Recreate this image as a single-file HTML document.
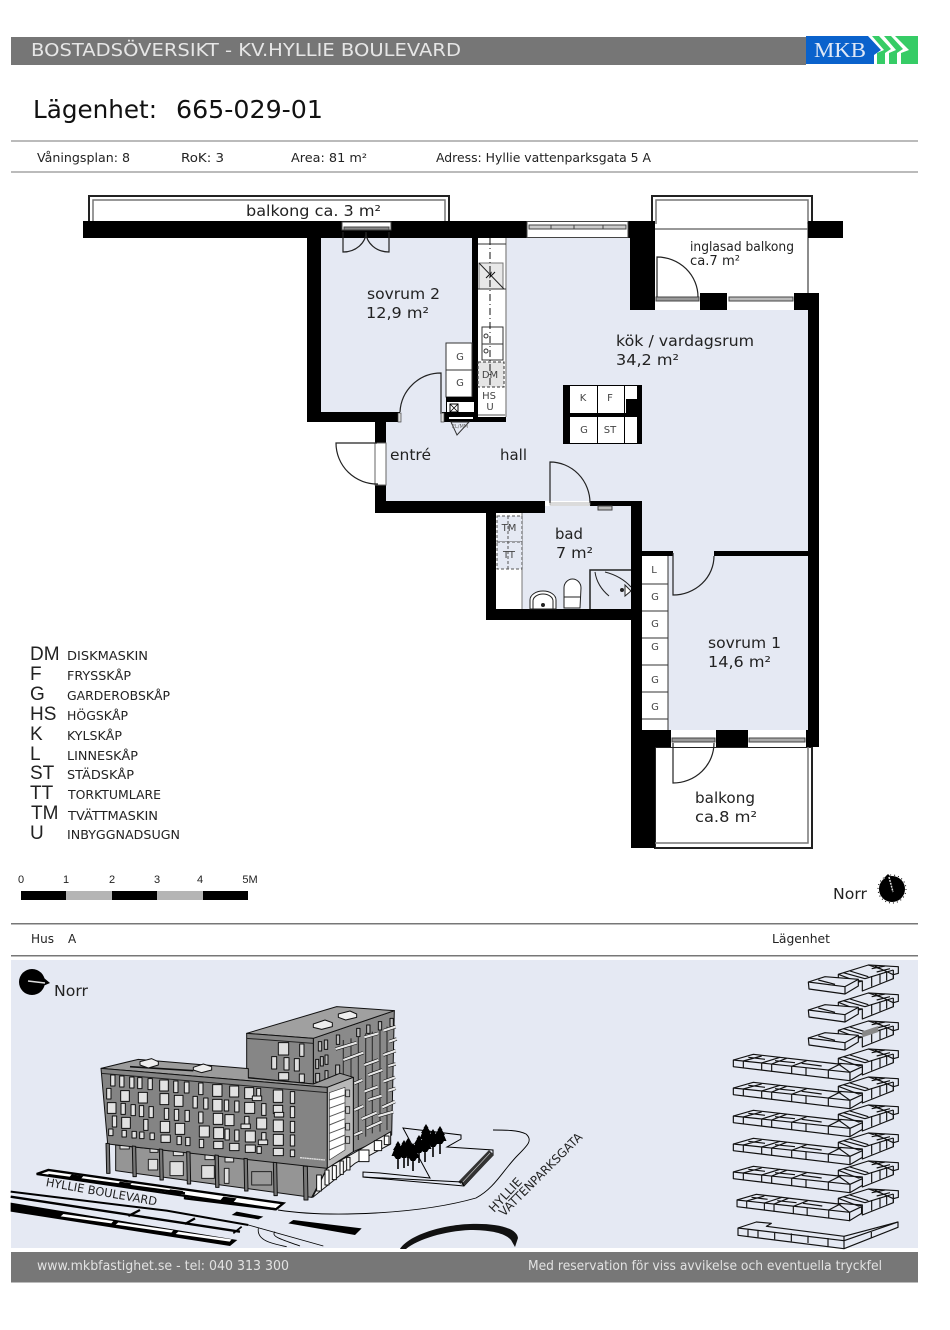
<!DOCTYPE html>
<html><head><meta charset="utf-8"><title>Bostadsöversikt</title>
<style>
html,body{margin:0;padding:0;background:#fff}
svg{display:block}
text{font-family:"DejaVu Sans",sans-serif;fill:#222}
.l{font-family:"Liberation Sans",sans-serif}
.s{font-size:10px;fill:#444;text-anchor:middle}
</style></head><body>
<svg xmlns="http://www.w3.org/2000/svg" width="950" height="1330" viewBox="0 0 950 1330">
<rect width="950" height="1330" fill="#fff"/>
<!-- header -->
<rect x="11" y="37" width="795" height="28" fill="#767676"/>
<polygon points="806,36 868,36 881,50 874,55 874,64 806,64" fill="#0a62cc"/>
<text x="814" y="57" style="font-family:'Liberation Serif',serif;font-size:21px;fill:#dfe8f6" textLength="52" lengthAdjust="spacingAndGlyphs">MKB</text>
<polygon points="872,36 879,36 891,49 885,53 885,64 877,64 877,53 884,50" fill="#36cc66"/>
<polygon points="884,36 891,36 903,49 897,53 897,64 889,64 889,53 896,50" fill="#36cc66"/>
<polygon points="895,36 918,36 918,64 901,64 901,53 909,50" fill="#36cc66"/>
<text x="31" y="56" font-size="18" style="fill:#e6e6e6" textLength="430" lengthAdjust="spacingAndGlyphs">BOSTADSÖVERSIKT - KV.HYLLIE BOULEVARD</text>
<text x="33" y="118" font-size="25" style="fill:#111" textLength="124" lengthAdjust="spacingAndGlyphs">Lägenhet:</text>
<text x="176" y="118" font-size="25" style="fill:#111" textLength="147" lengthAdjust="spacingAndGlyphs">665-029-01</text>
<rect x="11" y="140" width="907" height="2" fill="#bbb"/>
<rect x="11" y="171" width="907" height="2" fill="#bbb"/>
<text x="37" y="162" font-size="12" textLength="93" lengthAdjust="spacingAndGlyphs">Våningsplan: 8</text>
<text x="181" y="162" font-size="12" textLength="43" lengthAdjust="spacingAndGlyphs">RoK: 3</text>
<text x="291" y="162" font-size="12" textLength="76" lengthAdjust="spacingAndGlyphs">Area: 81 m²</text>
<text x="436" y="162" font-size="12" textLength="215" lengthAdjust="spacingAndGlyphs">Adress: Hyllie vattenparksgata 5 A</text>

<!-- floor plan: room fills -->
<g fill="#e5e9f3">
<polygon points="321,238 630,238 630,310 808,310 808,730 642,730 642,501 386,501 386,422 321,412"/>
<rect x="496" y="506" width="136" height="103"/>
</g>
<!-- balconies -->
<g fill="#fff" stroke="#222">
<rect x="89" y="196" width="360" height="27" stroke-width="2"/>
<polyline points="93,222 93,200 445,200 445,222" fill="none" stroke="#777" stroke-width="1.5"/>
<path d="M652,224V196H812V224" stroke-width="2"/>
<polyline points="656,226 656,200 808,200 808,226" fill="none" stroke="#777" stroke-width="1.5"/>
<rect x="654" y="224" width="154" height="69" stroke="none"/>
<line x1="654" y1="229" x2="808" y2="229" stroke="#777" stroke-width="1.5"/>
<line x1="808" y1="222" x2="808" y2="293" stroke="#666" stroke-width="1.5"/>
<rect x="655" y="747" width="157" height="101" stroke-width="2"/>
<polyline points="655,843 808,843 808,747" fill="none" stroke="#777" stroke-width="1.5"/>
</g>
<!-- walls -->
<g fill="#000">
<rect x="83" y="221" width="444" height="17"/>
<rect x="628" y="221" width="27" height="17"/>
<rect x="630" y="221" width="25" height="89"/>
<rect x="808" y="221" width="35" height="17"/>
<rect x="307" y="238" width="14" height="184"/>
<rect x="307" y="412" width="93" height="10"/>
<rect x="442" y="412" width="64" height="10"/>
<rect x="472" y="238" width="6" height="184"/>
<rect x="375" y="422" width="11" height="21"/>
<rect x="375" y="485" width="11" height="27"/>
<rect x="375" y="501" width="170" height="12"/>
<rect x="590" y="501" width="52" height="5"/>
<rect x="486" y="513" width="10" height="107"/>
<rect x="486" y="609" width="155" height="11"/>
<rect x="631" y="501" width="11" height="229"/>
<rect x="631" y="730" width="40" height="17"/>
<rect x="631" y="730" width="24" height="118"/>
<rect x="716" y="730" width="32" height="17"/>
<rect x="806" y="730" width="13" height="17"/>
<rect x="808" y="293" width="11" height="454"/>
<rect x="794" y="293" width="25" height="17"/>
<rect x="700" y="293" width="27" height="17"/>
<rect x="642" y="551" width="31" height="5"/>
<rect x="714" y="551" width="94" height="5"/>
</g>
<!-- windows -->
<g stroke="#444" stroke-width="1">
<rect x="527" y="221.500" width="101" height="16" fill="#fff"/>
<rect x="529" y="225" width="97" height="4" fill="#ccc"/>
<line x1="551" y1="225" x2="551" y2="229"/><line x1="574" y1="225" x2="574" y2="229"/><line x1="603" y1="225" x2="603" y2="229"/>
<rect x="342" y="222" width="49" height="8" fill="#fff"/>
<rect x="344" y="227" width="45" height="3" fill="#888"/>
<rect x="655" y="293" width="45" height="17" fill="#fff" stroke="none"/>
<rect x="727" y="293" width="67" height="17" fill="#fff" stroke="none"/>
<rect x="656" y="297" width="43" height="4" fill="#999"/>
<rect x="729" y="297" width="64" height="4" fill="#bbb"/>
<rect x="671" y="730" width="45" height="17" fill="#fff" stroke="none"/>
<rect x="748" y="730" width="58" height="17" fill="#fff" stroke="none"/>
<rect x="672" y="738" width="43" height="4" fill="#999"/>
<rect x="749" y="738" width="56" height="4" fill="#aaa"/>
<rect x="375" y="443" width="11" height="42" fill="#fff" stroke="#666"/>
<rect x="598" y="506" width="14" height="4" fill="#bbb"/>
</g>
<!-- doors -->
<g fill="none" stroke="#222" stroke-width="1.2">
<path d="M343,232V252A23,20 0 0 0 366,232"/>
<path d="M389,232V252A23,20 0 0 1 366,232"/>
<path d="M441,414V373A41,41 0 0 0 400,412"/>
<path d="M377,443H336A41,41 0 0 0 378,484"/>
<path d="M550,503V462A40,41 0 0 1 590,503"/>
<path d="M657,297V257A41,40 0 0 1 698,297"/>
<path d="M673,553V595A41,39 0 0 0 714,556"/>
<path d="M673,743V783A41,40 0 0 0 714,743"/>
</g>
<rect x="441" y="413" width="3" height="9" fill="#ddd" stroke="#444" stroke-width=".7"/>
<rect x="398" y="413" width="3" height="9" fill="#ddd" stroke="#444" stroke-width=".7"/>
<rect x="550" y="503" width="40" height="2" fill="#fff" stroke="#888" stroke-width=".6"/>
<!-- sovrum 2 closets -->
<g stroke="#333" stroke-width="1">
<rect x="446" y="343" width="26" height="27" fill="#fff"/>
<rect x="446" y="370" width="26" height="27" fill="#fff"/>
</g>
<rect x="446" y="397" width="27" height="15" fill="#000"/>
<rect x="447" y="402" width="27" height="10" fill="#fff"/>
<rect x="450" y="404" width="8" height="8" fill="#fff" stroke="#000"/>
<path d="M450,404l8,8m0,-8l-8,8" stroke="#000" stroke-width=".8"/>
<rect x="449" y="417" width="24" height="2" fill="#fff"/>
<rect x="445" y="412" width="1" height="10" fill="#000"/>
<polygon points="451,422 469,422 457,435" fill="#e5e9f3" stroke="#333"/>
<text x="460" y="428" font-size="5" text-anchor="middle" style="fill:#666">EL/MM</text>
<!-- kitchen counter -->
<rect x="478" y="238" width="28" height="179" fill="#fff" stroke="none"/>
<line x1="506" y1="238" x2="506" y2="417" stroke="#999" stroke-width="1.5"/>
<g fill="none" stroke="#333" stroke-width="1">
<line x1="478" y1="244" x2="506" y2="244"/>
<rect x="479" y="263" width="24" height="26" fill="#e8e8e8" stroke="#777"/>
<line x1="479" y1="263" x2="504" y2="289" stroke="#222"/>
<line x1="478" y1="289" x2="506" y2="289"/>
<path d="M486,278l5,-5l-1,4l5,-5" stroke="#111"/>
<rect x="482" y="327" width="21" height="33" fill="#fff"/>
<line x1="482" y1="344" x2="503" y2="344"/>
<circle cx="486" cy="336" r="2"/><circle cx="486" cy="351" r="2"/>
<rect x="478" y="362" width="26" height="25" fill="#e5e5e5" stroke-dasharray="3 2"/>
<line x1="490" y1="238" x2="490" y2="387" stroke="#111" stroke-dasharray="7 3 1 3"/>
<line x1="478" y1="415" x2="506" y2="415" stroke="#aaa" stroke-width="2"/>
</g>
<text class="s" x="490" y="378">DM</text>
<text class="s" x="489" y="399">HS</text>
<text class="s" x="490" y="410">U</text>
<text class="s" x="460" y="360">G</text>
<text class="s" x="460" y="386">G</text>
<!-- island -->
<rect x="570" y="385" width="67" height="59" fill="#fff"/>
<g fill="#000">
<rect x="563" y="385" width="7" height="59"/>
<rect x="637" y="385" width="5" height="59"/>
<rect x="563" y="413" width="79" height="4"/>
<rect x="626" y="399" width="11" height="14"/>
<rect x="563" y="385" width="79" height="1"/>
<rect x="563" y="443" width="79" height="1"/>
<rect x="597" y="385" width="1" height="59"/>
<rect x="624" y="385" width="1" height="59"/>
</g>
<text class="s" x="583" y="401">K</text><text class="s" x="610" y="401">F</text>
<text class="s" x="584" y="433">G</text><text class="s" x="610" y="433">ST</text>
<!-- bad -->
<rect x="496" y="513" width="26" height="96" fill="#fff"/>
<line x1="522" y1="513" x2="522" y2="609" stroke="#777"/>
<g fill="none" stroke="#555" stroke-dasharray="3 2">
<rect x="497" y="516" width="25" height="26" fill="#e5e9f3"/>
<rect x="497" y="542" width="25" height="27" fill="#e5e9f3"/>
<line x1="508" y1="516" x2="508" y2="569"/>
</g>
<text class="s" x="509" y="531">TM</text><text class="s" x="509" y="558">TT</text>
<g stroke="#222" stroke-width="1" fill="#fff">
<path d="M530,609V600A13,9 0 0 1 556,600V609Z"/>
<path d="M533,609V601A10,7 0 0 1 553,601V609" fill="none"/>
<circle cx="543" cy="605" r="1.5" fill="#222"/>
<path d="M564,608L564,588A8.500,9 0 0 1 581,588L580,608Z"/>
<line x1="564" y1="597" x2="581" y2="597"/>
</g>
<g fill="none" stroke="#222">
<path d="M590,609V570H631" stroke-width="1.5"/>
<path d="M595,572Q597,586 609,596"/>
<path d="M605,572Q621,576 631,587"/>
<polygon points="625,585 631,591 625,596" fill="#fff"/>
<circle cx="622" cy="590" r="1.5" fill="#222"/>
</g>
<!-- sovrum 1 closets -->
<rect x="642" y="556" width="26" height="174" fill="#fff"/>
<g stroke="#333" stroke-width="1">
<line x1="668" y1="556" x2="668" y2="730"/>
<line x1="642" y1="584" x2="668" y2="584"/><line x1="642" y1="611" x2="668" y2="611"/>
<line x1="642" y1="638" x2="668" y2="638"/><line x1="642" y1="665" x2="668" y2="665"/>
<line x1="642" y1="692" x2="668" y2="692"/><line x1="642" y1="719" x2="668" y2="719"/>
</g>
<text class="s" x="654" y="573">L</text><text class="s" x="655" y="600">G</text>
<text class="s" x="655" y="627">G</text><text class="s" x="655" y="650">G</text>
<text class="s" x="655" y="683">G</text><text class="s" x="655" y="710">G</text>
<!-- room labels -->
<g font-size="15">
<text x="246" y="216" textLength="135" lengthAdjust="spacingAndGlyphs">balkong ca. 3 m²</text>
<text x="367" y="299" textLength="73" lengthAdjust="spacingAndGlyphs">sovrum 2</text>
<text x="366" y="318" textLength="63" lengthAdjust="spacingAndGlyphs">12,9 m²</text>
<text x="390" y="460" textLength="41" lengthAdjust="spacingAndGlyphs">entré</text>
<text x="500" y="460" textLength="27" lengthAdjust="spacingAndGlyphs">hall</text>
<text x="616" y="346" textLength="138" lengthAdjust="spacingAndGlyphs">kök / vardagsrum</text>
<text x="616" y="365" textLength="63" lengthAdjust="spacingAndGlyphs">34,2 m²</text>
<text x="555" y="539" textLength="28" lengthAdjust="spacingAndGlyphs">bad</text>
<text x="556" y="558" textLength="37" lengthAdjust="spacingAndGlyphs">7 m²</text>
<text x="708" y="648" textLength="73" lengthAdjust="spacingAndGlyphs">sovrum 1</text>
<text x="708" y="667" textLength="63" lengthAdjust="spacingAndGlyphs">14,6 m²</text>
<text x="695" y="803" textLength="60" lengthAdjust="spacingAndGlyphs">balkong</text>
<text x="695" y="822" textLength="62" lengthAdjust="spacingAndGlyphs">ca.8 m²</text>
</g>
<text x="690" y="251" font-size="13" textLength="104" lengthAdjust="spacingAndGlyphs">inglasad balkong</text>
<text x="690" y="265" font-size="13" textLength="50" lengthAdjust="spacingAndGlyphs">ca.7 m²</text>
<!-- legend -->
<g font-size="19">
<text class="l" x="30" y="660">DM</text><text class="l" x="30" y="680">F</text><text class="l" x="30" y="700">G</text>
<text class="l" x="30" y="720">HS</text><text class="l" x="30" y="740">K</text><text class="l" x="30" y="760">L</text>
<text class="l" x="30" y="779">ST</text><text class="l" x="30" y="799">TT</text><text class="l" x="31" y="819">TM</text>
<text class="l" x="30" y="839">U</text>
</g>
<g font-size="12">
<text x="67" y="660" textLength="81" lengthAdjust="spacingAndGlyphs">DISKMASKIN</text>
<text x="67" y="680" textLength="64" lengthAdjust="spacingAndGlyphs">FRYSSKÅP</text>
<text x="67" y="700" textLength="103" lengthAdjust="spacingAndGlyphs">GARDEROBSKÅP</text>
<text x="67" y="720" textLength="61" lengthAdjust="spacingAndGlyphs">HÖGSKÅP</text>
<text x="67" y="740" textLength="55" lengthAdjust="spacingAndGlyphs">KYLSKÅP</text>
<text x="67" y="760" textLength="71" lengthAdjust="spacingAndGlyphs">LINNESKÅP</text>
<text x="67" y="779" textLength="67" lengthAdjust="spacingAndGlyphs">STÄDSKÅP</text>
<text x="68" y="799" textLength="93" lengthAdjust="spacingAndGlyphs">TORKTUMLARE</text>
<text x="68" y="820" textLength="90" lengthAdjust="spacingAndGlyphs">TVÄTTMASKIN</text>
<text x="67" y="839" textLength="113" lengthAdjust="spacingAndGlyphs">INBYGGNADSUGN</text>
</g>
<!-- scale -->
<rect x="21" y="891" width="45" height="9" fill="#000"/><rect x="66" y="891" width="46" height="9" fill="#b5b5b5"/>
<rect x="112" y="891" width="45" height="9" fill="#000"/><rect x="157" y="891" width="46" height="9" fill="#b5b5b5"/>
<rect x="203" y="891" width="45" height="9" fill="#000"/>
<g font-size="11" text-anchor="middle">
<text class="l" x="21" y="883">0</text><text class="l" x="66" y="883">1</text><text class="l" x="112" y="883">2</text>
<text class="l" x="157" y="883">3</text><text class="l" x="200" y="883">4</text><text class="l" x="250" y="883">5M</text>
</g>
<text x="833" y="899" font-size="15.500" textLength="34" lengthAdjust="spacingAndGlyphs">Norr</text>
<circle cx="892" cy="889" r="13" fill="#000"/>
<circle cx="892" cy="889" r="14" fill="none" stroke="#000" stroke-dasharray="1 3"/>
<polygon points="884,878 888,874 892,878" fill="#000"/>
<line x1="889" y1="877" x2="893" y2="892" stroke="#ddd" stroke-width="1.500" stroke-dasharray="2 1"/>
<rect x="11" y="923" width="907" height="1.500" fill="#777"/>
<rect x="11" y="955" width="907" height="1.500" fill="#777"/>
<text x="31" y="943" font-size="12" textLength="23" lengthAdjust="spacingAndGlyphs">Hus</text>
<text x="68" y="943" font-size="12">A</text>
<text x="772" y="943" font-size="12" textLength="58" lengthAdjust="spacingAndGlyphs">Lägenhet</text>
<!-- map panel -->
<rect x="11" y="960" width="907" height="288" fill="#e5e9f3"/>
<circle cx="32" cy="982" r="13" fill="#000"/>
<polygon points="44,978 50,983 43,986" fill="#000"/>
<line x1="28" y1="981" x2="45" y2="983" stroke="#ddd" stroke-width="1.500"/>
<text x="54" y="996" font-size="15.500" textLength="34" lengthAdjust="spacingAndGlyphs">Norr</text>

<!-- roads (zoom-6 coordinate space) -->
<g transform="translate(0,960) scale(.33333)">
<polygon points="110,642 145,630 850,730 828,748" fill="#fff" stroke="#000" stroke-width="7" stroke-linejoin="miter"/>
<g stroke="#000" stroke-width="7" fill="none">
<line x1="145" y1="645" x2="555" y2="700"/>
<line x1="555" y1="715" x2="828" y2="748"/>
<line x1="555" y1="708" x2="555" y2="718"/>
</g>
<g fill="#000">
<polygon points="215,643 250,648 240,660 205,655"/>
<polygon points="360,665 395,670 385,682 350,677"/>
<polygon points="510,688 550,693 540,705 500,700"/>
<polygon points="670,710 710,715 700,727 660,722"/>
<polygon points="695,765 710,755 790,770 775,778"/>
<polygon points="865,790 880,780 1085,805 1065,825"/>
<polygon points="32,728 32,755 690,858 712,840"/>
</g>
<polygon points="190,762 340,783 334,790 182,769" fill="#fff"/>
<polygon points="355,787 520,811 514,818 347,794" fill="#fff"/>
<polygon points="535,815 695,838 689,845 527,822" fill="#fff"/>
<g stroke="#000" fill="none">
<path d="M32,695L500,752L745,795" stroke-width="6"/>
<path d="M32,710L720,815" stroke-width="7"/>
<path d="M700,820L725,800" stroke-width="5"/>
<path d="M420,750L385,768M585,775L555,792" stroke-width="7"/>
<path d="M745,795L970,858M775,805C770,840 810,850 860,860M825,815C810,830 850,840 900,858" stroke-width="2.500"/>
</g>
<text x="136" y="678" transform="rotate(10 136 678)" font-size="35" textLength="338" lengthAdjust="spacingAndGlyphs">HYLLIE BOULEVARD</text>
</g>
<!-- thin curve, plaza, trees -->
<path d="M278,1210C330,1218 420,1214 476,1198C495,1188 503,1170 518,1155C528,1145 533,1140 526,1134C518,1130 505,1130 493,1130" fill="none" stroke="#000" stroke-width=".9"/>
<polygon points="403,1128 461,1135 461,1139 447,1147 493,1150 493,1155 464,1186 363,1177 363,1172 380,1173 430,1178" fill="#e5e9f3" stroke="#000" stroke-width="1"/>
<polygon points="489,1150 494,1155 464,1186 458,1182" fill="#333"/>
<g stroke="#000" fill="none" stroke-width=".6"><line x1="490" y1="1153" x2="461" y2="1184" stroke="#ccc"/></g>
<polyline points="363,1177 462,1182 464,1186" fill="none" stroke="#000"/>
<defs>
<g id="t" fill="#000">
<polygon points="0,-12 2.500,-8 2,-8 5,-3 4,-3 6.500,3 4,3 2,6 -2,6 -4,3 -6.500,3 -4,-3 -5,-3 -2,-8 -2.500,-8"/>
<rect x="-.8" y="5" width="1.600" height="11"/>
</g>
</defs>
<use href="#t" x="426" y="1136"/><use href="#t" x="440" y="1138"/><use href="#t" x="433" y="1141"/>
<use href="#t" x="419" y="1147"/><use href="#t" x="408" y="1150"/><use href="#t" x="425" y="1146"/>
<use href="#t" x="398" y="1153"/><use href="#t" x="413" y="1155"/><use href="#t" x="404" y="1152"/>
<path d="M400,1249C408,1236 440,1225 470,1224C497,1223 517,1228 518,1238L515,1247L511,1240C505,1233 490,1230 470,1230C445,1231 418,1239 406,1249Z" fill="#111"/>
<g font-size="12">
<text x="494" y="1213" transform="rotate(-47 494 1213)" textLength="42" lengthAdjust="spacingAndGlyphs">HYLLIE</text>
<text x="504" y="1217" transform="rotate(-45 504 1217)" textLength="112" lengthAdjust="spacingAndGlyphs">VATTENPARKSGATA</text>
</g>

<!-- building (zoom-10 coordinate space) -->
<g transform="translate(95,1000) scale(.33333)" stroke-linejoin="round">
<!-- upper block -->
<polygon points="655,115 898,32 890,405 775,455 775,232 655,252" fill="#8a8a8a" stroke="#111" stroke-width="3"/>
<polygon points="455,100 725,20 898,32 655,115" fill="#a0a0a0" stroke="#111" stroke-width="3"/>
<polygon points="455,100 655,115 655,252 455,232" fill="#868686" stroke="#111" stroke-width="3"/>
<line x1="455" y1="115" x2="655" y2="130" stroke="#222" stroke-width="3"/>
<g fill="#ddd" stroke="#111" stroke-width="3">
<rect x="550" y="128" width="31" height="37"/><rect x="614" y="132" width="13" height="37"/>
<rect x="530" y="170" width="15" height="37"/><rect x="567" y="173" width="15" height="37"/><rect x="598" y="176" width="15" height="37"/>
<rect x="551" y="218" width="30" height="22"/><rect x="613" y="222" width="15" height="25"/>
<polygon points="655,72 690,60 712,68 712,80 680,88 655,82" fill="#eee"/>
<polygon points="730,42 765,33 785,42 785,52 752,60 730,52" fill="#eee"/>
</g>
<!-- right-side dark windows -->
<g stroke="#111" stroke-width="3" fill="#bbb">
<rect x="670" y="125" width="10" height="28"/><rect x="688" y="120" width="10" height="28"/>
<rect x="662" y="178" width="9" height="28"/><rect x="676" y="170" width="9" height="28"/><rect x="690" y="165" width="9" height="28"/>
<rect x="662" y="220" width="12" height="26"/><rect x="690" y="212" width="9" height="25"/>
<rect x="724" y="105" width="10" height="28"/><rect x="722" y="195" width="12" height="28"/>
<rect x="785" y="85" width="10" height="25"/><rect x="815" y="75" width="10" height="25"/><rect x="850" y="65" width="10" height="25"/><rect x="885" y="55" width="10" height="25"/>
</g>
<g stroke="#333" stroke-width="3.500">
<line x1="745" y1="120" x2="745" y2="440"/><line x1="768" y1="115" x2="768" y2="230"/><line x1="790" y1="110" x2="790" y2="420"/>
<line x1="812" y1="100" x2="812" y2="410"/><line x1="832" y1="95" x2="832" y2="400"/><line x1="855" y1="90" x2="855" y2="395"/><line x1="876" y1="80" x2="876" y2="390"/>
</g>
<g stroke="#111" stroke-width="10" stroke-linecap="butt">
<path d="M865,92L902,80M808,112L850,100M722,147L785,128M882,125L905,117M745,180L805,158M808,195L850,180M865,165L902,152M880,198L902,192M820,225L862,210M865,245L900,232M778,250L802,240M808,275L848,260M880,272L902,265M778,330L805,318M820,300L860,287M862,322L900,305M800,357L845,338M850,348L895,335M815,385L860,365M778,405L802,395"/>
</g>
<g stroke="#e8e8e8" stroke-width="6.500">
<path d="M865,92L902,80M808,112L850,100M722,147L785,128M882,125L905,117M745,180L805,158M808,195L850,180M865,165L902,152M880,198L902,192M820,225L862,210M865,245L900,232M778,250L802,240M808,275L848,260M880,272L902,265M778,330L805,318M820,300L860,287M862,322L900,305M800,357L845,338M850,348L895,335M815,385L860,365M778,405L802,395"/>
</g>
<!-- ground floor -->
<polygon points="62,435 697,503 650,592 62,512" fill="#959595" stroke="#111" stroke-width="3"/>
<g fill="#e0e0e0" stroke="#222" stroke-width="3">
<rect x="160" y="478" width="28" height="32"/><rect x="225" y="485" width="40" height="42"/><rect x="320" y="497" width="38" height="38"/>
<rect x="388" y="505" width="14" height="45"/><rect x="470" y="515" width="60" height="40" fill="#9a9a9a"/>
<rect x="75" y="435" width="28" height="12"/><rect x="165" y="445" width="24" height="12"/><rect x="235" y="453" width="30" height="14"/>
<rect x="330" y="465" width="28" height="14"/><rect x="390" y="472" width="26" height="14"/>
</g>
<!-- right ground -->
<polygon points="653,592 697,503 775,460 887,395 887,432 780,490" fill="#efefef" stroke="#111" stroke-width="3"/>
<g stroke="#111" stroke-width="3" fill="#fff">
<rect x="665" y="525" width="14" height="48"/><rect x="690" y="510" width="12" height="45"/><rect x="712" y="497" width="12" height="42"/><rect x="735" y="483" width="10" height="40"/><rect x="755" y="472" width="10" height="38"/>
<rect x="792" y="450" width="30" height="35"/><rect x="838" y="422" width="22" height="30"/><rect x="868" y="408" width="14" height="26"/>
</g>
<!-- low block -->
<polygon points="18,205 130,178 460,206 460,234 655,252 735,220 775,232 697,262" fill="#9c9c9c" stroke="#111" stroke-width="3"/>
<line x1="105" y1="200" x2="295" y2="212" stroke="#111" stroke-width="5"/>
<polygon points="18,205 697,262 697,505 38,432" fill="#848484" stroke="#111" stroke-width="3"/>
<line x1="20" y1="220" x2="697" y2="278" stroke="#222" stroke-width="3"/>
<polygon points="697,262 775,232 775,455 697,505" fill="#b8b8b8" stroke="#111" stroke-width="3"/>
<polygon points="703,278 750,262 750,450 703,480" fill="#fff" stroke="#333" stroke-width="2"/>
<g stroke="#555" stroke-width="3">
<line x1="703" y1="300" x2="750" y2="285"/><line x1="703" y1="325" x2="750" y2="308"/><line x1="703" y1="350" x2="750" y2="332"/>
<line x1="703" y1="375" x2="750" y2="356"/><line x1="703" y1="400" x2="750" y2="382"/><line x1="703" y1="425" x2="750" y2="405"/><line x1="703" y1="450" x2="750" y2="430"/>
</g>
<g fill="#ccc" stroke="#222" stroke-width="2.500">
<rect x="752" y="270" width="12" height="20"/><rect x="752" y="320" width="12" height="20"/><rect x="752" y="370" width="12" height="20"/><rect x="752" y="410" width="12" height="20"/>
</g>
<polygon points="135,185 170,176 190,185 190,195 160,204 135,195" fill="#eee" stroke="#111" stroke-width="3"/>
<polygon points="295,202 325,192 350,200 350,210 320,218 295,210" fill="#eee" stroke="#111" stroke-width="3"/>
<g fill="#e2e2e2" stroke="#111" stroke-width="3">
<rect x="47" y="225" width="13" height="33"/><rect x="74" y="228" width="13" height="33"/><rect x="104" y="231" width="13" height="33"/><rect x="128" y="233" width="13" height="33"/><rect x="159" y="236" width="13" height="33"/><rect x="194" y="240" width="26" height="33"/><rect x="236" y="243" width="13" height="35"/><rect x="268" y="246" width="14" height="33"/><rect x="311" y="249" width="13" height="35"/><rect x="353" y="254" width="28" height="35"/><rect x="404" y="258" width="27" height="33"/><rect x="449" y="263" width="27" height="33"/><rect x="485" y="265" width="12" height="25"/><rect x="535" y="270" width="28" height="37"/><rect x="586" y="275" width="13" height="35"/>
<rect x="35" y="265" width="13" height="32"/><rect x="77" y="272" width="26" height="32"/><rect x="130" y="277" width="27" height="32"/><rect x="195" y="281" width="26" height="33"/><rect x="238" y="286" width="26" height="33"/><rect x="294" y="289" width="13" height="35"/><rect x="326" y="294" width="13" height="33"/><rect x="353" y="298" width="28" height="35"/><rect x="388" y="300" width="13" height="33"/><rect x="419" y="303" width="13" height="33"/><rect x="449" y="307" width="30" height="33"/><rect x="500" y="311" width="13" height="35"/><rect x="535" y="316" width="28" height="25"/><rect x="586" y="320" width="13" height="33"/>
<rect x="37" y="308" width="26" height="32"/><rect x="78" y="310" width="13" height="33"/><rect x="108" y="314" width="13" height="33"/><rect x="133" y="317" width="13" height="33"/><rect x="162" y="320" width="13" height="33"/><rect x="208" y="325" width="13" height="33"/><rect x="238" y="328" width="13" height="33"/><rect x="270" y="331" width="13" height="33"/><rect x="311" y="336" width="13" height="33"/><rect x="355" y="340" width="28" height="33"/><rect x="390" y="344" width="27" height="33"/><rect x="449" y="349" width="13" height="25"/><rect x="485" y="354" width="30" height="33"/><rect x="535" y="360" width="30" height="35"/><rect x="586" y="364" width="13" height="33"/>
<rect x="52" y="348" width="13" height="33"/><rect x="80" y="352" width="26" height="33"/><rect x="146" y="358" width="13" height="33"/><rect x="196" y="364" width="28" height="33"/><rect x="241" y="370" width="28" height="33"/><rect x="313" y="378" width="30" height="33"/><rect x="356" y="383" width="30" height="33"/><rect x="390" y="387" width="13" height="33"/><rect x="419" y="390" width="13" height="33"/><rect x="451" y="393" width="30" height="33"/><rect x="500" y="398" width="13" height="27"/><rect x="535" y="403" width="30" height="33"/><rect x="586" y="405" width="13" height="33"/>
<rect x="41" y="387" width="13" height="20"/><rect x="81" y="391" width="13" height="20"/><rect x="111" y="394" width="13" height="20"/><rect x="134" y="396" width="13" height="20"/><rect x="165" y="399" width="13" height="20"/><rect x="198" y="405" width="28" height="22"/><rect x="246" y="409" width="13" height="25"/><rect x="272" y="412" width="13" height="25"/><rect x="313" y="418" width="13" height="25"/><rect x="356" y="424" width="28" height="22"/><rect x="404" y="430" width="28" height="22"/><rect x="451" y="435" width="30" height="22"/><rect x="486" y="440" width="13" height="20"/><rect x="535" y="445" width="30" height="22"/><rect x="586" y="450" width="13" height="20"/>
<rect x="472" y="288" width="28" height="14"/><rect x="538" y="337" width="28" height="14"/><rect x="438" y="372" width="28" height="14"/><rect x="490" y="420" width="28" height="14"/>
</g>
<line x1="615" y1="473" x2="690" y2="480" stroke="#ddd" stroke-width="4" stroke-dasharray="6 1"/>
<!-- columns -->
<g fill="#777" stroke="#111" stroke-width="3">
<polygon points="33,430 43,431 45,520 35,520"/>
<polygon points="112,438 122,439 124,530 114,530"/>
<polygon points="193,447 203,448 205,540 195,540"/>
<polygon points="275,455 285,456 287,552 277,552"/>
<polygon points="360,465 370,466 372,562 362,562"/>
<polygon points="447,475 457,476 459,573 449,573"/>
<polygon points="535,487 545,488 547,587 537,587"/>
<polygon points="625,498 637,499 639,600 627,600"/>
</g>
</g>

<!-- floor stack -->
<defs>
<g id="w" fill="#e5e9f3" stroke="#111" stroke-width="3.500" stroke-linejoin="round">
<polygon points="340,55 430,27 520,32 520,52 505,56 505,68 480,78 412,105 412,75 340,70"/>
<path d="M340,55L400,78L412,75M355,50L420,68M375,45L430,62M430,27L470,40L505,56M470,40L450,30M420,68L505,42M440,60V92M465,52V82M485,46V74M505,42V68M440,38L480,30M455,48L495,38" fill="none"/>
</g>
<g id="l" fill="#e5e9f3" stroke="#111" stroke-width="3.500" stroke-linejoin="round">
<polygon points="25,60 85,43 340,72 375,97 375,122 25,80"/>
<polygon points="375,97 412,80 412,100 375,122"/>
<path d="M25,60L375,97M55,63V85M110,69V91M140,72V95M200,79V101M243,83V106M310,90V114M55,63L110,48M140,72L185,55M200,79L245,62M310,90L350,70M110,69L165,52M70,52L120,58M150,62L210,68M230,70L290,78" fill="none"/>
</g>
<g id="b" fill="#e5e9f3" stroke="#111" stroke-width="3.500" stroke-linejoin="round">
<polygon points="250,78 300,62 400,70 400,90 360,114 252,99"/>
<path d="M250,78L360,92L400,70M360,92V114M280,72L330,85" fill="none"/>
</g>
</defs>
<g transform="translate(725,1040) scale(.33333)">
<g transform="translate(0,-252)"><use href="#w"/><use href="#b"/></g>
<g transform="translate(0,-168)"><use href="#w"/><use href="#b"/></g>
<g transform="translate(0,-84)"><use href="#w"/><use href="#b"/></g>
<polygon points="412,-8 460,-24 460,-42 412,-26" fill="#888"/>
<use href="#w"/><use href="#l"/>
<g transform="translate(0,84)"><use href="#w"/><use href="#l"/></g>
<g transform="translate(0,168)"><use href="#w"/><use href="#l"/></g>
<g transform="translate(0,252)"><use href="#w"/><use href="#l"/></g>
<g transform="translate(0,336)"><use href="#w"/><use href="#l"/></g>
<g transform="translate(0,420)"><use href="#w"/></g>
<g transform="translate(12,420) scale(.965,1)"><use href="#l"/></g>
<g transform="translate(39,504)" fill="#e5e9f3" stroke="#111" stroke-width="3.500" stroke-linejoin="round">
<polygon points="0,60 55,42 100,46 85,55 318,85 480,42 480,58 318,122 0,82"/>
<path d="M0,60L318,98L480,42M318,98V122M30,63V85M60,66V88M110,72V94M160,76V100M210,83V105M270,90V115M400,72V90M318,85L318,98" fill="none"/>
</g>
</g>

<!-- footer -->
<rect x="11" y="1252" width="907" height="30.500" fill="#777"/>
<text x="37" y="1270" font-size="13" style="fill:#e2e2e2" textLength="252" lengthAdjust="spacingAndGlyphs">www.mkbfastighet.se - tel: 040 313 300</text>
<text x="528" y="1270" font-size="13" style="fill:#e2e2e2" textLength="354" lengthAdjust="spacingAndGlyphs">Med reservation för viss avvikelse och eventuella tryckfel</text>
</svg>
</body></html>
